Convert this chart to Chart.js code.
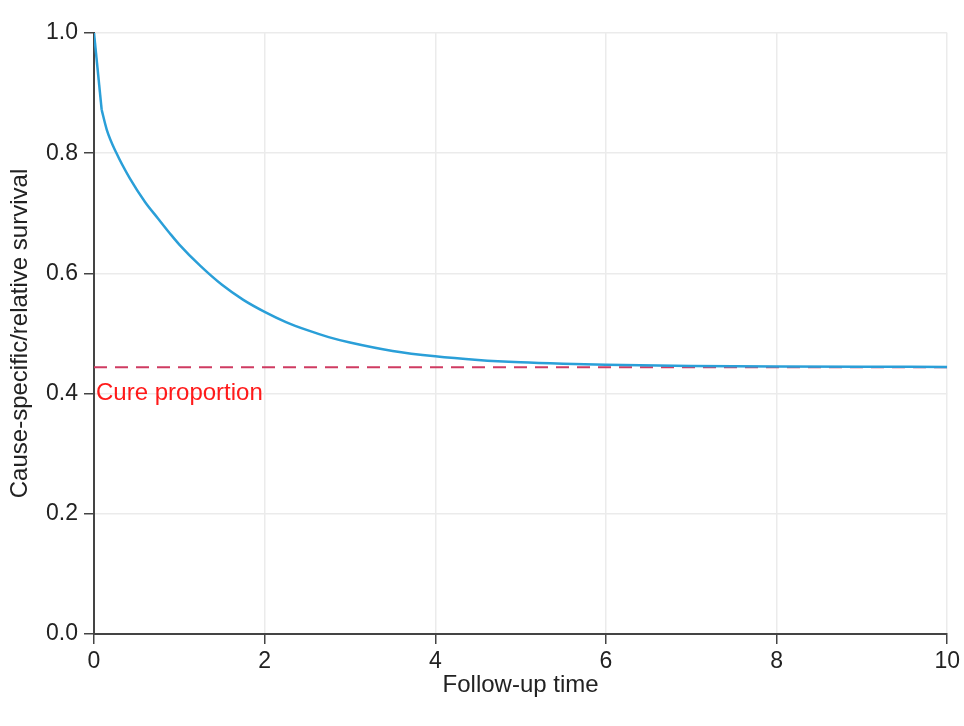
<!DOCTYPE html>
<html>
<head>
<meta charset="utf-8">
<script src="https://cdn.jsdelivr.net/npm/chart.js@4/dist/chart.umd.min.js"></script>
<style>
  html, body { margin: 0; padding: 0; background: #fff; }
  #wrap { width: 964px; height: 726px; }
</style>
</head>
<body>
<div id="wrap"><canvas id="survChart" width="964" height="726"></canvas></div>
<script>
// follow-up time (x) and cause-specific/relative survival (y)
const followUp = [0, 0.09, 0.15, 0.26, 0.42, 0.6, 0.75, 0.89, 1.0, 1.25, 1.5, 1.75, 2.0,
  2.25, 2.5, 2.75, 3.0, 3.5, 4.0, 4.5, 5.0, 5.5, 6.0, 7.0, 8.0, 9.0, 10.0];
const survival = [1.0, 0.872, 0.839, 0.801, 0.758, 0.7185, 0.6915, 0.6665, 0.648, 0.612, 0.581, 0.556, 0.536,
  0.519, 0.5055, 0.494, 0.485, 0.471, 0.462, 0.456, 0.452, 0.4495, 0.4478, 0.4459, 0.445, 0.4446, 0.4444];

const cureProportion = 0.444;
const cureRange = [0, 10];
const cureLabel = 'Cure proportion';

const xTicks = [0, 2, 4, 6, 8, 10];
const yTicks = [0, 0.2, 0.4, 0.6, 0.8, 1.0];

const FONT = "'Liberation Sans', Arial, sans-serif";
const AXIS_DARK = '#444';
const GRID = '#ebebeb';
const BLUE = '#2a9fd8';

const toPoints = (xs, ys) => xs.map((t, i) => ({ x: t, y: ys[i] }));

// text under the dashed line
const cureLabelPlugin = {
  id: 'cureLabel',
  afterDatasetsDraw(chart) {
    const { ctx, scales: { x, y } } = chart;
    ctx.save();
    ctx.font = '24px ' + FONT;
    ctx.fillStyle = '#ff1a1a';
    ctx.textAlign = 'left';
    ctx.textBaseline = 'middle';
    ctx.fillText(cureLabel, x.getPixelForValue(cureRange[0]) + 2, y.getPixelForValue(0.4));
    ctx.restore();
  },
};

new Chart(document.getElementById('survChart'), {
  type: 'scatter',
  data: {
    datasets: [
      // steep first step is a straight drop, the rest is smooth
      {
        data: toPoints(followUp.slice(0, 2), survival.slice(0, 2)),
        showLine: true,
        borderColor: BLUE,
        borderWidth: 2.5,
        pointRadius: 0,
        order: 0,
      },
      {
        data: toPoints(followUp.slice(1), survival.slice(1)),
        showLine: true,
        borderColor: BLUE,
        borderWidth: 2.5,
        pointRadius: 0,
        cubicInterpolationMode: 'monotone',
        order: 0,
      },
      {
        data: toPoints(cureRange, cureRange.map(() => cureProportion)),
        showLine: true,
        borderColor: '#cf3b62',
        borderWidth: 2,
        borderDash: [13, 8],
        pointRadius: 0,
        order: 1,
      },
    ],
  },
  options: {
    responsive: false,
    animation: false,
    layout: { padding: { top: 33, right: 16, left: 0, bottom: 0 } },
    plugins: { legend: { display: false }, tooltip: { enabled: false } },
    scales: {
      x: {
        type: 'linear',
        min: 0,
        max: 10,
        afterBuildTicks: s => { s.ticks = xTicks.map(v => ({ value: v })); },
        afterFit: s => { s.height = 92; },
        ticks: { color: '#222', font: { family: FONT, size: 23 }, padding: 4, maxRotation: 0 },
        grid: { color: GRID, lineWidth: 1.5, tickColor: AXIS_DARK, tickLength: 10, tickWidth: 1.5 },
        border: { color: AXIS_DARK, width: 2 },
        title: {
          display: true,
          text: 'Follow-up time',
          color: '#222',
          font: { family: FONT, size: 24 },
          padding: { top: 0, bottom: 26 },
        },
      },
      y: {
        min: 0,
        max: 1,
        afterBuildTicks: s => { s.ticks = yTicks.map(v => ({ value: v })); },
        afterFit: s => { s.width = 94; },
        ticks: { color: '#222', font: { family: FONT, size: 23 }, padding: 6, callback: v => v.toFixed(1) },
        grid: { color: GRID, lineWidth: 1.5, tickColor: AXIS_DARK, tickLength: 10, tickWidth: 1.5 },
        border: { color: AXIS_DARK, width: 2 },
        title: {
          display: true,
          text: 'Cause-specific/relative survival',
          color: '#222',
          font: { family: FONT, size: 24 },
          padding: { top: 6, bottom: 0 },
        },
      },
    },
  },
  plugins: [cureLabelPlugin],
});
</script>
</body>
</html>
